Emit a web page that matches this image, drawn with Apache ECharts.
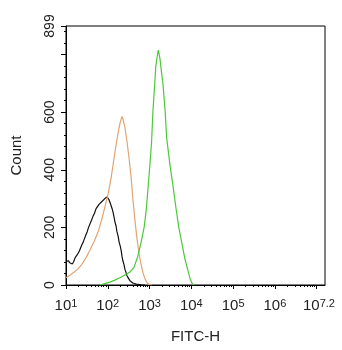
<!DOCTYPE html>
<html>
<head>
<meta charset="utf-8">
<script src="https://cdn.jsdelivr.net/npm/echarts@6/dist/echarts.min.js"></script>
<style>
  html, body { margin: 0; padding: 0; background: #fff; }
  #chart { width: 342px; height: 350px; }
</style>
</head>
<body>
<div id="chart"></div>
<script>
// x values are log10(FITC-H), y values are counts
const blackLog = [1.00, 1.03, 1.06, 1.09, 1.12, 1.15, 1.18, 1.22, 1.25, 1.29, 1.32, 1.35, 1.38, 1.41, 1.44, 1.48, 1.51, 1.54, 1.57, 1.61, 1.65, 1.68, 1.72, 1.75, 1.79, 1.82, 1.86, 1.89, 1.93, 1.96, 1.98, 2.01, 2.03, 2.06, 2.08, 2.11, 2.13, 2.15, 2.17, 2.20, 2.22, 2.25, 2.27, 2.30, 2.32, 2.34, 2.36, 2.39, 2.41, 2.44, 2.46, 2.50, 2.53, 2.57, 2.60, 2.64, 2.68, 2.73, 2.77, 2.83, 2.89];
const blackCount = [82, 80, 84, 77, 74, 73, 80, 95, 99, 110, 118, 122, 140, 148, 160, 175, 186, 200, 202, 225, 240, 248, 265, 262, 280, 278, 290, 296, 300, 298, 306, 300, 296, 284, 275, 262, 250, 236, 220, 204, 185, 168, 150, 134, 120, 100, 85, 70, 55, 42, 32, 22, 15, 10, 7, 5, 3, 2, 1, 0, 0];

const orangeLog = [1.00, 1.10, 1.19, 1.29, 1.38, 1.48, 1.57, 1.67, 1.77, 1.86, 1.93, 2.01, 2.08, 2.15, 2.22, 2.29, 2.34, 2.36, 2.41, 2.46, 2.51, 2.56, 2.60, 2.65, 2.70, 2.75, 2.80, 2.84, 2.89, 2.94, 2.99, 3.06];
const orangeCount = [25, 35, 44, 56, 72, 95, 120, 150, 185, 230, 270, 318, 372, 440, 505, 560, 585, 578, 548, 498, 440, 372, 300, 225, 160, 108, 70, 44, 22, 8, 2, 0];

const greenLog = [1.81, 1.93, 2.05, 2.17, 2.29, 2.41, 2.53, 2.63, 2.72, 2.80, 2.87, 2.92, 2.96, 3.01, 3.05, 3.08, 3.12, 3.15, 3.19, 3.21, 3.25, 3.28, 3.32, 3.37, 3.41, 3.49, 3.56, 3.63, 3.70, 3.78, 3.85, 3.92, 3.97, 4.02, 4.06];
const greenCount = [0, 5, 10, 17, 25, 35, 45, 62, 100, 150, 200, 260, 330, 420, 500, 600, 690, 760, 800, 815, 785, 745, 700, 610, 510, 415, 345, 270, 200, 140, 88, 50, 22, 5, 0];

const xMajorTicks = [1, 2, 3, 4, 5, 6, 7];
const xLabelValues = [1, 2, 3, 4, 5, 6, 7.2];
const yLabelValues = [0, 200, 400, 600, 899];

// minor ticks at 2..9 x 10^n
const xMinorTicks = [];
for (let n = 1; n < 7; n++) {
  for (let k = 2; k <= 9; k++) xMinorTicks.push(n + Math.log10(k));
}

function pairs(xs, ys) {
  return xs.map((x, i) => [x, ys[i]]);
}

const font = 'Liberation Sans, Arial, sans-serif';

const option = {
  animation: false,
  grid: {
    left: 66, right: 17, top: 26, bottom: 65,
    show: true, borderColor: '#000', borderWidth: 1
  },
  xAxis: [
    {
      type: 'value',
      min: 1,
      max: 7.2,
      name: 'FITC-H',
      nameLocation: 'middle',
      nameGap: 44,
      nameTextStyle: { fontFamily: font, fontSize: 15, color: '#222' },
      axisLine: { lineStyle: { color: '#000', width: 1 } },
      axisTick: { customValues: xMajorTicks, length: 4, lineStyle: { color: '#000' } },
      splitLine: { show: false },
      axisLabel: {
        customValues: xLabelValues,
        margin: 13,
        formatter: function (v) {
          const e = Math.round(v * 10) / 10;
          // the last label is pulled in a little, as in the original
          if (e === 7.2) return '{m|10}{t|' + e + '}';
          return '10{s|' + e + '}';
        },
        fontFamily: font,
        fontSize: 15,
        color: '#222',
        rich: {
          s: { fontFamily: font, fontSize: 11, color: '#222', verticalAlign: 'top', padding: [0, 0, 5, 0] },
          m: { fontFamily: font, fontSize: 15, color: '#222' },
          t: { fontFamily: font, fontSize: 11, color: '#222', verticalAlign: 'top', padding: [0, 12, 5, 0] }
        }
      }
    },
    {
      type: 'value',
      min: 1,
      max: 7.2,
      position: 'bottom',
      axisLine: { show: false },
      axisTick: { customValues: xMinorTicks, length: 2, lineStyle: { color: '#000' } },
      axisLabel: { show: false },
      splitLine: { show: false }
    }
  ],
  yAxis: {
    type: 'value',
    min: 0,
    max: 899,
    interval: 200,
    name: 'Count',
    nameLocation: 'middle',
    nameGap: 42,
    nameRotate: 90,
    nameTextStyle: { fontFamily: font, fontSize: 15, color: '#222' },
    axisLine: { show: true, lineStyle: { color: '#000', width: 1 } },
    axisTick: { show: true, length: 5, lineStyle: { color: '#000' } },
    minorTick: { show: true, splitNumber: 5, length: 2, lineStyle: { color: '#000' } },
    splitLine: { show: false },
    axisLabel: {
      customValues: yLabelValues,
      rotate: 90,
      margin: 9,
      fontFamily: font,
      fontSize: 14,
      color: '#222'
    }
  },
  series: [
    {
      name: 'black',
      type: 'line',
      data: pairs(blackLog, blackCount),
      showSymbol: false,
      lineStyle: { color: '#111', width: 1.2 }
    },
    {
      name: 'orange',
      type: 'line',
      data: pairs(orangeLog, orangeCount),
      showSymbol: false,
      lineStyle: { color: '#e2a470', width: 1.2 }
    },
    {
      name: 'green',
      type: 'line',
      data: pairs(greenLog, greenCount),
      showSymbol: false,
      lineStyle: { color: '#4cc83a', width: 1.2 }
    }
  ]
};

const chart = echarts.init(document.getElementById('chart'));
chart.setOption(option);
</script>
</body>
</html>
